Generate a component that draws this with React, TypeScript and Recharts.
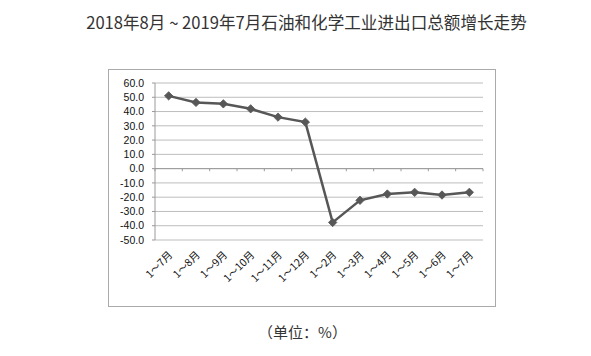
import React from "react";
import { LineChart, Line, XAxis, YAxis, CartesianGrid, ReferenceLine } from "recharts";

const categories = ["1～7月", "1～8月", "1～9月", "1～10月", "1～11月", "1～12月", "1～2月", "1～3月", "1～4月", "1～5月", "1～6月", "1～7月"];
const growth = [51.0, 46.4, 45.4, 41.9, 36.1, 32.6, -37.7, -22.2, -17.8, -16.6, -18.5, -16.6];
const yTicks = [-50, -40, -30, -20, -10, 0, 10, 20, 30, 40, 50, 60];
const title = "2018年8月 ~ 2019年7月石油和化学工业进出口总额增长走势";
const unitLabel = "（单位：%）";

const data = categories.map((c, i) => ({ pos: i + 0.5, name: c, value: growth[i] }));
const xTicks = categories.map((_, i) => i + 0.5);
const boundaries = Array.from({ length: categories.length + 1 }, (_, i) => i);

const LINE = "#575757";

const Diamond = (props: any) => {
  const { cx, cy } = props;
  if (cx == null || cy == null) return null;
  const r = 4.2;
  return <polygon points={`${cx},${cy - r} ${cx + r},${cy} ${cx},${cy + r} ${cx - r},${cy}`} fill={LINE} stroke={LINE} strokeWidth={0.8} />;
};

const XTick = (props: any) => {
  const { x, payload } = props;
  const idx = Math.round(payload.value - 0.5);
  return (
    <text
      x={x + 2}
      y={253}
      transform={`rotate(-45 ${x + 2} 253)`}
      textAnchor="end"
      dy="0.35em"
      fontSize={10.5}
      fill="#111"
      fontFamily="'Noto Sans CJK SC', 'Liberation Sans', sans-serif"
    >
      {categories[idx]}
    </text>
  );
};

export default function App() {
  return (
    <div style={{ position: "absolute", left: 0, top: 0, width: 591, height: 356, background: "#fff", fontFamily: "'Noto Sans CJK SC', sans-serif" }}>
      <div style={{ position: "absolute", left: 0, width: 591, top: 10, textAlign: "center", fontSize: 16.6, color: "#333", paddingLeft: 22, boxSizing: "border-box", lineHeight: "24px", whiteSpace: "nowrap" }}>
        {title}
      </div>
      <div style={{ position: "absolute", left: 108, top: 69, width: 388, height: 238, border: "1px solid #aaaaaa", boxSizing: "border-box" }} />
      <div style={{ position: "absolute", left: 0, top: 0 }}>
        <LineChart width={591} height={356} data={data} margin={{ top: 83, right: 108, bottom: 56, left: 108 }}>
          <CartesianGrid vertical={false} stroke="#bdbdbd" strokeWidth={1} />
          <XAxis
            dataKey="pos"
            type="number"
            domain={[0, 12]}
            ticks={xTicks}
            interval={0}
            axisLine={false}
            tickLine={false}
            height={60}
            tick={<XTick />}
          />
          <YAxis
            domain={[-50, 60]}
            ticks={yTicks}
            interval={0}
            width={47}
            axisLine={{ stroke: "#9a9a9a" }}
            tickLine={{ stroke: "#9a9a9a" }}
            tickSize={3}
            tick={{ fontSize: 10.5, fill: "#111", fontFamily: "'Liberation Sans', sans-serif", dx: -6 }}
            tickFormatter={(v: number) => v.toFixed(1)}
          />
          <ReferenceLine y={0} stroke="#9a9a9a" strokeWidth={1} />
          {boundaries.map((b) => (
            <ReferenceLine key={b} segment={[{ x: b, y: 0 }, { x: b, y: -1.8 }]} stroke="#9a9a9a" strokeWidth={1} />
          ))}
          <Line
            dataKey="value"
            stroke={LINE}
            strokeWidth={2.5}
            dot={<Diamond />}
            activeDot={false}
            isAnimationActive={false}
          />
        </LineChart>
      </div>
      <div style={{ position: "absolute", left: 0, width: 591, top: 320, textAlign: "center", fontSize: 15, color: "#333", paddingLeft: 14, boxSizing: "border-box", lineHeight: "24px" }}>
        {unitLabel}
      </div>
    </div>
  );
}
